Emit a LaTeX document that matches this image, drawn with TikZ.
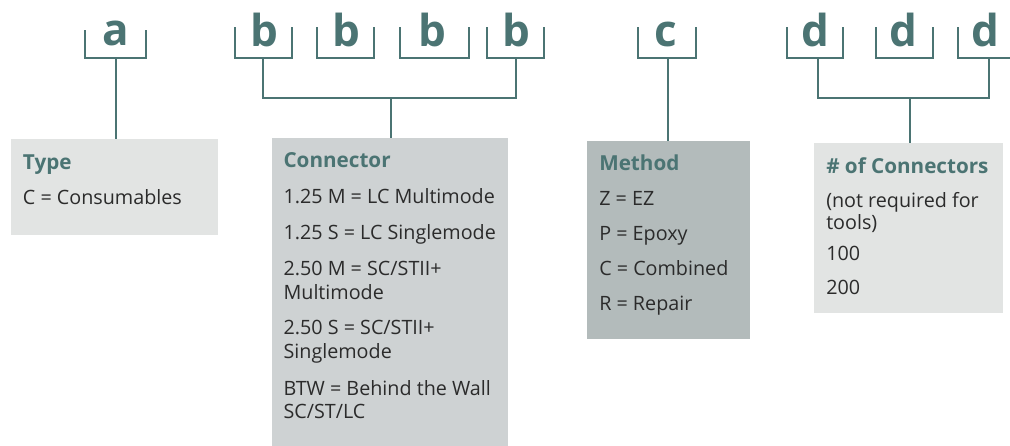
\documentclass[tikz,border=0pt]{standalone}
\usepackage{fontspec}
\setmainfont{Open Sans}
\definecolor{teal}{HTML}{4B7473}
\definecolor{bodytxt}{HTML}{2B2B2B}
\definecolor{boxlight}{HTML}{E2E4E3}
\definecolor{boxmid}{HTML}{CED2D3}
\definecolor{boxdark}{HTML}{B3BBBB}
\tikzset{
  conn/.style={draw=teal, line width=1.5pt},
  letter/.style={anchor=base, text=teal, font=\fontsize{33}{33}\selectfont\bfseries, inner sep=0pt},
  panel/.style={anchor=north west, inner sep=0pt, draw=none},
  head/.style={anchor=base west, text=teal, font=\fontsize{15.5}{18}\selectfont\bfseries, inner sep=0pt},
  body/.style={anchor=base west, text=bodytxt, font=\fontsize{14.8}{18}\selectfont, inner sep=0pt},
}
\begin{document}
\begin{tikzpicture}[x=0.75pt,y=-0.75pt]
\useasboundingbox (0,0) rectangle (1010,446);
% panels
\node[panel, fill=boxlight, minimum width={206.7*0.75pt}, minimum height={95.7*0.75pt}] (type) at (11,139) {};
\node[panel, fill=boxmid, minimum width={235.7*0.75pt}, minimum height={310*0.75pt}] (connector) at (272,138) {};
\node[panel, fill=boxdark, minimum width={163*0.75pt}, minimum height={198*0.75pt}] (method) at (587,141) {};
\node[panel, fill=boxlight, minimum width={188.7*0.75pt}, minimum height={170*0.75pt}] (number) at (814,142.7) {};
% letters
\node[letter] (la) at (115.5,45) {a};
\node[letter] (lb1) at (264,46) {b};
\node[letter] (lb2) at (346.5,46) {b};
\node[letter] (lb3) at (432,46) {b};
\node[letter] (lb4) at (516.5,46) {b};
\node[letter] (lc) at (666,46) {c};
\node[letter] (ld1) at (815,46) {d};
\node[letter] (ld2) at (903,46) {d};
\node[letter] (ld3) at (985,46) {d};
% brackets
\draw[conn] (84.7,30) -- (84.7,58) -- (146,58) -- (146,30);
\draw[conn] (235,27) -- (235,58) -- (291.7,58) -- (291.7,27);
\draw[conn] (316.7,27) -- (316.7,58) -- (374,58) -- (374,27);
\draw[conn] (400,27) -- (400,58) -- (469,58) -- (469,27);
\draw[conn] (487.3,27) -- (487.3,58) -- (544.3,58) -- (544.3,27);
\draw[conn] (638.3,27) -- (638.3,58) -- (696,58) -- (696,27);
\draw[conn] (786.7,27) -- (786.7,58) -- (843.3,58) -- (843.3,27);
\draw[conn] (876,27) -- (876,58) -- (933.3,58) -- (933.3,27);
\draw[conn] (958.3,27) -- (958.3,58) -- (1015,58);
% connector coordinates
\coordinate (ab) at (115.7,58);
\coordinate (bb1) at (263.3,58);
\coordinate (bb4) at (516,58);
\coordinate (bj) at (390.7,98.3);
\coordinate (cb) at (668.3,58);
\coordinate (db1) at (817.7,58);
\coordinate (db3) at (989,58);
\coordinate (dj) at (910,98.3);
% stems
\draw[conn] (ab) -- (ab |- type.north);
\draw[conn] (bb1) |- (bj) -| (bb4);
\draw[conn] (bj) -- (bj |- connector.north);
\draw[conn] (cb) -- (cb |- method.north);
\draw[conn] (db1) |- (dj) -| (db3);
\draw[conn] (dj) -- (dj |- number.north);
% Type
\node[head] (th) at (22.7,169.3) {Type};
\node[body] (t1) at (22.7,204) {C = Consumables};
% Connector
\node[head] (ch) at (283.3,167.3) {Connector};
\node[body] (c1) at (283.3,203.3) {1.25 M = LC Multimode};
\node[body] (c2) at (283.3,239.3) {1.25 S = LC Singlemode};
\node[body] (c3) at (283.3,275.7) {2.50 M = SC/STII+};
\node[body] (c4) at (283.3,299.3) {Multimode};
\node[body] (c5) at (283.3,334) {2.50 S = SC/STII+};
\node[body] (c6) at (283.3,358.5) {Singlemode};
\node[body] (c7) at (283.3,395) {BTW = Behind the Wall};
\node[body] (c8) at (283.3,418.3) {SC/ST/LC};
% Method
\node[head] (mh) at (599,170.7) {Method};
\node[body] (m1) at (599,205.7) {Z = EZ};
\node[body] (m2) at (599,240.5) {P = Epoxy};
\node[body] (m3) at (599,275.7) {C = Combined};
\node[body] (m4) at (599,310) {R = Repair};
% Number
\node[head] (nh) at (826,173.3) {\# of Connectors};
\node[body] (n1) at (826,207.3) {(not required for};
\node[body] (n2) at (826,229) {tools)};
\node[body] (n3) at (826,260.7) {100};
\node[body] (n4) at (826,294) {200};
\end{tikzpicture}
\end{document}
